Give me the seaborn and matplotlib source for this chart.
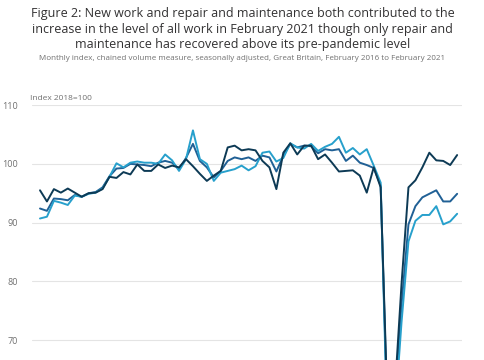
import numpy as np
import pandas as pd
import seaborn as sns
import matplotlib.pyplot as plt

# monthly index, Feb 2016 to Feb 2021 (61 months)
months = pd.date_range("2016-02-01", "2021-02-01", freq="MS").strftime("%b %Y").tolist()

repair_maint = [95.5, 93.6, 95.7, 95.1, 95.8, 95.1, 94.4, 95.0, 95.1, 95.7,
                97.8, 97.6, 98.6, 98.2, 99.9, 98.8, 98.8, 99.9, 99.3, 99.7,
                99.4, 100.8, 99.6, 98.3, 97.1, 98.0, 98.8, 102.8, 103.1, 102.3,
                102.5, 102.3, 100.5, 99.4, 95.7, 101.9, 103.5, 101.6, 103.1, 103.1,
                100.8, 101.6, 100.2, 98.7, 98.8, 98.9, 98.0, 95.1, 99.4, 96.0,
                58.0, 60.5, 79.5, 96.0, 97.2, 99.4, 101.9, 100.6, 100.5, 99.8, 101.5]

all_work = [92.4, 92.0, 94.1, 94.0, 93.8, 94.7, 94.4, 95.0, 95.2, 96.0,
            97.9, 99.2, 99.3, 100.0, 99.9, 99.8, 99.6, 100.2, 100.5, 100.2,
            99.1, 101.0, 103.4, 100.5, 99.4, 97.7, 98.8, 100.5, 101.1, 100.8,
            101.1, 100.5, 101.4, 101.1, 98.7, 101.4, 103.4, 102.8, 103.1, 103.0,
            101.8, 102.5, 102.3, 102.5, 100.5, 101.4, 100.2, 99.8, 99.3, 96.3,
            56.0, 59.5, 76.0, 89.7, 92.8, 94.3, 94.9, 95.5, 93.6, 93.6, 94.9]

new_work = [90.7, 91.0, 93.7, 93.4, 93.0, 94.6, 94.4, 94.9, 95.1, 95.8,
            97.8, 100.1, 99.4, 100.2, 100.4, 100.2, 100.2, 100.0, 101.6, 100.6,
            98.8, 100.8, 105.7, 100.8, 100.0, 97.1, 98.5, 98.8, 99.1, 99.7,
            98.9, 99.6, 101.9, 102.1, 100.4, 101.0, 103.5, 102.8, 102.6, 103.4,
            102.2, 102.9, 103.4, 104.6, 101.9, 102.7, 101.6, 102.5, 99.7, 96.8,
            53.0, 56.5, 73.0, 86.8, 90.3, 91.3, 91.3, 92.8, 89.7, 90.2, 91.5]

series = ["All work", "New work", "Repair and maintenance"]
colors = {"All work": "#206095", "New work": "#27A0CC", "Repair and maintenance": "#0d3a55"}

df = pd.DataFrame({"month": months * 3,
                   "pos": list(range(len(months))) * 3,
                   "series": np.repeat(series, len(months)),
                   "index": all_work + new_work + repair_maint})

sns.set_theme(style="white")
plt.rcParams["font.family"] = ["Open Sans", "DejaVu Sans"]

fig = plt.figure(figsize=(4.85, 3.6), dpi=100)
# axes runs past the bottom edge, so the trough is cut off like the original
ax = fig.add_axes([32 / 485, -0.271, 430 / 485, 0.979])

sns.lineplot(data=df, x="pos", y="index", hue="series", palette=colors,
             hue_order=series, linewidth=1.4, legend=False, ax=ax)

ax.set_xlim(-1.15, 60.7)
ax.set_ylim(50, 110)
ax.set_yticks([70, 80, 90, 100, 110])
ax.set_xticks([])
ax.set(xlabel=None, ylabel=None)
ax.yaxis.grid(True, color="#e4e4e4", linewidth=0.8)
for s in ax.spines.values():
    s.set_visible(False)
ax.tick_params(axis="y", length=0, pad=10, labelsize=6.5, labelcolor="#707070")

fig.text(0.5, 1 - 29 / 360,
         "Figure 2: New work and repair and maintenance both contributed to the\n"
         "increase in the level of all work in February 2021 though only repair and\n"
         "maintenance has recovered above its pre-pandemic level",
         ha="center", va="center", fontsize=9, color="#323132", linespacing=1.24)
fig.text(0.5, 1 - 58 / 360,
         "Monthly index, chained volume measure, seasonally adjusted, Great Britain, February 2016 to February 2021",
         ha="center", va="center", fontsize=5.8, color="#707070")
fig.text(30 / 485, 1 - 98 / 360, "Index 2018=100", ha="left", va="center",
         fontsize=6.0, color="#707070")

fig.savefig("out.png", dpi=100)
